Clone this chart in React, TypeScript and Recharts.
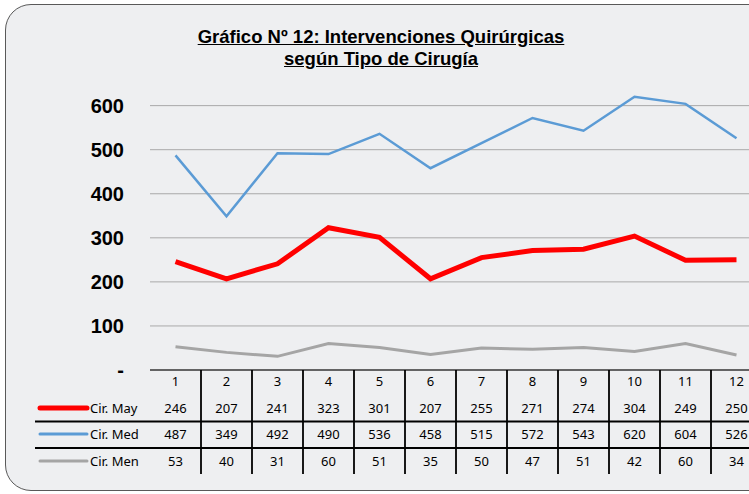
import React from "react";
import { LineChart, Line, XAxis, YAxis, CartesianGrid } from "recharts";

const categories = ["1", "2", "3", "4", "5", "6", "7", "8", "9", "10", "11", "12"];
const cirMay = [246, 207, 241, 323, 301, 207, 255, 271, 274, 304, 249, 250];
const cirMed = [487, 349, 492, 490, 536, 458, 515, 572, 543, 620, 604, 526];
const cirMen = [53, 40, 31, 60, 51, 35, 50, 47, 51, 42, 60, 34];
const yTicks = [0, 100, 200, 300, 400, 500, 600];

const seriesRows = [
  { name: "Cir. May", values: cirMay, color: "#ff0000", width: 5 },
  { name: "Cir. Med", values: cirMed, color: "#5b9bd5", width: 3 },
  { name: "Cir. Men", values: cirMen, color: "#a5a5a5", width: 3 },
];

const chartData = categories.map((c, i) => ({
  name: c,
  may: cirMay[i],
  med: cirMed[i],
  men: cirMen[i],
}));

const tableFont = "'Noto Sans', 'Open Sans', sans-serif";
const rowY = [386, 413, 439, 466];
const colW = 51;

// each x tick draws one column of the data table
const TableTick = (props: any) => {
  const { x, payload, index } = props;
  return (
    <g>
      <text x={x} y={rowY[0]} textAnchor="middle" fontSize={13} fill="#000" fontFamily={tableFont}>
        {payload.value}
      </text>
      {seriesRows.map((s, r) => (
        <text key={s.name} x={x} y={rowY[r + 1]} textAnchor="middle" fontSize={13} fill="#000" fontFamily={tableFont}>
          {s.values[index]}
        </text>
      ))}
      <line x1={x + colW / 2} x2={x + colW / 2} y1={370} y2={474} stroke="#000" strokeWidth={1.8} />
    </g>
  );
};

const YTick = (props: any) => {
  const { y, payload } = props;
  return (
    <text x={124} y={y + 7} textAnchor="end" fontSize={20} fontWeight="bold" fill="#000" fontFamily="'Liberation Sans', Arial, sans-serif">
      {payload.value === 0 ? "-" : payload.value}
    </text>
  );
};

const App: React.FC = () => {
  return (
    <div style={{ position: "fixed", left: 0, top: 0, width: 749, height: 494, overflow: "hidden", background: "#fff" }}>
      <div
        style={{
          position: "absolute",
          left: 5,
          top: 4,
          width: 780,
          height: 487,
          border: "1.5px solid #595959",
          borderRadius: 26,
          background: "#eeeff1",
          boxSizing: "border-box",
        }}
      />
      <div
        style={{
          position: "absolute",
          left: 0,
          top: 26,
          width: 762,
          textAlign: "center",
          fontFamily: "'Liberation Sans Narrow', 'Arial Narrow', 'Liberation Sans', sans-serif",
          fontWeight: "bold",
          fontSize: 18.5,
          lineHeight: "22px",
          textDecoration: "underline",
          color: "#000",
        }}
      >
        Gráfico Nº 12: Intervenciones Quirúrgicas
        <br />
        según Tipo de Cirugía
      </div>
      <div style={{ position: "absolute", left: 0, top: 0 }}>
        <LineChart width={770} height={494} data={chartData} margin={{ top: 88, right: 8, bottom: 0, left: 0 }}>
          <CartesianGrid vertical={false} stroke="#a9a9a9" syncWithTicks />
          <XAxis
            dataKey="name"
            height={124}
            padding={{ left: 25.5, right: 25.5 }}
            axisLine={{ stroke: "#404040", strokeWidth: 1.5 }}
            tickLine={false}
            interval={0}
            tick={<TableTick />}
          />
          <YAxis width={150} domain={[0, 640]} ticks={yTicks} axisLine={false} tickLine={false} tick={<YTick />} />
          <Line type="linear" dataKey="men" stroke="#a5a5a5" strokeWidth={3} dot={false} isAnimationActive={false} />
          <Line type="linear" dataKey="may" stroke="#ff0000" strokeWidth={5} dot={false} isAnimationActive={false} />
          <Line type="linear" dataKey="med" stroke="#5b9bd5" strokeWidth={2.5} dot={false} isAnimationActive={false} />
        </LineChart>
      </div>
      <svg style={{ position: "absolute", left: 0, top: 0 }} width={749} height={494}>
        <line x1={35} x2={749} y1={421.5} y2={421.5} stroke="#000" strokeWidth={1.8} />
        <line x1={35} x2={749} y1={448} y2={448} stroke="#000" strokeWidth={1.8} />
        {seriesRows.map((s, r) => (
          <g key={s.name}>
            <line x1={40} x2={87} y1={rowY[r + 1] - 5} y2={rowY[r + 1] - 5} stroke={s.color} strokeWidth={s.width} strokeLinecap="round" />
            <text x={90} y={rowY[r + 1]} fontSize={13} fill="#000" fontFamily={tableFont}>
              {s.name}
            </text>
          </g>
        ))}
      </svg>
    </div>
  );
};

export default App;
